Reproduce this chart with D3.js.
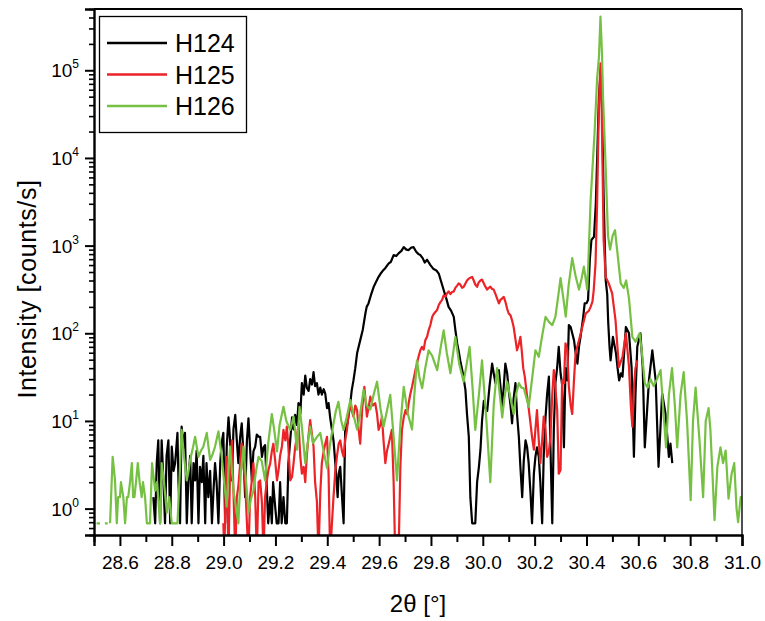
<!DOCTYPE html>
<html>
<head>
<meta charset="utf-8">
<script src="https://cdn.jsdelivr.net/npm/d3@7/dist/d3.min.js"></script>
<style>
  body { margin: 0; background: #fff; }
  svg { font-family: Arial, "Liberation Sans", sans-serif; }
</style>
</head>
<body>
<main></main>
<script>
// series: [2theta in deg, intensity in counts/s], 0 = no counts
const seriesNames = ["H124", "H125", "H126"]
const seriesColors = ["#000000", "#ec2327", "#76c043"]

const h124 = [
  [28.729,1.35],[28.736,0.68],[28.742,3.3],[28.748,6],[28.755,0.68],[28.761,6],[28.768,2.0],[28.774,0.68],
  [28.780,4],[28.787,6],[28.794,0.68],[28.800,5.1],[28.807,2.7],[28.813,3.3],[28.822,7.3],[28.826,2.0],
  [28.832,0.68],[28.838,8.6],[28.846,5],[28.851,7.3],[28.858,0.68],[28.864,2.1],[28.871,4],[28.877,0.68],
  [28.884,3.3],[28.890,2.1],[28.896,4.6],[28.903,0.68],[28.909,3],[28.916,2.0],[28.922,4],[28.929,0.68],
  [28.934,3.3],[28.941,1.35],[28.948,2.7],[28.955,0.68],[28.961,1.6],[28.967,3.3],[28.973,2.0],[28.980,0.68],
  [28.987,3.3],[28.992,5.5],[28.999,7.3],[29.006,0.68],[29.012,5],[29.019,11],[29.025,6],[29.032,2.1],
  [29.038,8],[29.045,11.7],[29.051,6],[29.057,3.3],[29.064,6.6],[29.070,9.4],[29.077,4],[29.083,1.35],
  [29.090,6],[29.096,10.7],[29.102,5],[29.109,2.1],[29.115,4.5],[29.122,5.1],[29.128,7],[29.135,6.6],
  [29.141,6.6],[29.148,3.9],[29.154,5],[29.160,5.3],[29.166,2.0],[29.172,0.68],[29.180,1.35],[29.186,0.68],
  [29.191,2.0],[29.199,1.05],[29.205,0.68],[29.212,0.68],[29.218,2.0],[29.224,0.68],[29.231,1.35],[29.238,0.68],
  [29.244,0.68],[29.250,3.3],[29.257,6],[29.264,11],[29.270,8],[29.276,11.7],[29.283,9],[29.289,16],
  [29.296,12],[29.302,27],[29.309,20],[29.315,33],[29.321,24],[29.328,22],[29.334,30],[29.341,26],
  [29.347,36],[29.353,25],[29.360,27],[29.366,20],[29.373,24],[29.379,20],[29.386,23],[29.392,20.6],
  [29.399,14],[29.405,16],[29.411,11],[29.418,7.9],[29.424,6],[29.431,3.3],[29.436,2.0],[29.440,1.35],
  [29.444,2.5],[29.450,3.0],[29.456,1.5],[29.463,0.68],[29.469,7.9],[29.478,9.4],[29.489,16],[29.494,22],
  [29.501,29],[29.508,40],[29.515,59],[29.521,70],[29.527,83],[29.537,110],[29.547,168],[29.552,200],
  [29.559,219],[29.568,270],[29.579,338],[29.587,380],[29.598,440],[29.606,480],[29.617,528],[29.625,560],
  [29.637,627],[29.645,650],[29.656,780],[29.666,760],[29.675,815],[29.686,870],[29.695,960],[29.705,900],
  [29.714,890],[29.724,950],[29.733,960],[29.743,850],[29.752,800],[29.759,780],[29.768,720],[29.776,640],
  [29.785,690],[29.798,600],[29.810,540],[29.821,520],[29.830,480],[29.838,400],[29.849,312],[29.859,250],
  [29.868,200],[29.878,180],[29.888,154],[29.894,110],[29.901,77],[29.908,60],[29.913,49],[29.923,35],
  [29.933,22.6],[29.939,12],[29.946,6.6],[29.952,1.35],[29.959,0.68],[29.966,0.68],[29.971,0.68],[29.978,2.0],
  [29.985,3],[29.991,4.7],[29.997,10],[30.004,17],[30.010,14],[30.017,13],[30.026,25],[30.036,45],
  [30.042,35],[30.049,27],[30.055,35],[30.062,38],[30.068,25],[30.075,14.5],[30.081,25],[30.087,45],
  [30.094,35],[30.100,22.5],[30.107,15],[30.113,9.4],[30.119,18],[30.126,27],[30.132,12],[30.139,6.6],
  [30.145,3],[30.152,1.35],[30.158,3.5],[30.165,6],[30.171,5],[30.177,3.3],[30.184,1.5],[30.190,0.68],
  [30.197,2.5],[30.203,3.9],[30.209,5],[30.216,3.9],[30.222,2],[30.229,0.68],[30.235,4],[30.242,11],
  [30.248,20],[30.255,32],[30.261,5],[30.268,0.68],[30.274,8],[30.280,27],[30.287,41],[30.293,70],
  [30.300,35],[30.306,26],[30.313,5],[30.319,40],[30.326,29],[30.332,124],[30.339,118],[30.345,100],
  [30.352,83],[30.358,60],[30.365,45],[30.371,70],[30.377,91],[30.387,150],[30.393,219],[30.400,220],
  [30.406,240],[30.413,700],[30.419,1160],[30.429,1260],[30.436,3000],[30.442,12000],[30.448,50000],[30.454,90000],
  [30.460,40000],[30.466,3900],[30.474,405],[30.480,280],[30.484,130],[30.489,70],[30.493,49],[30.502,91],
  [30.514,59],[30.520,40],[30.526,29],[30.533,35],[30.539,32],[30.552,118],[30.564,100],[30.574,41],
  [30.583,3.9],[30.589,20],[30.596,70],[30.608,100],[30.617,41],[30.625,5],[30.641,29],[30.654,64],
  [30.667,29],[30.678,3],[30.692,20.6],[30.705,12],[30.718,3.9],[30.724,5.5],[30.731,3.3]
]

const h125 = [
  [28.999,0.68],[29.003,0.3],[29.010,3.9],[29.019,0.3],[29.025,3],[29.032,6],[29.037,2],[29.045,0.3],
  [29.051,1.35],[29.057,1.8],[29.064,3.3],[29.070,5.5],[29.077,3],[29.083,2.1],[29.090,0.68],[29.096,0.3],
  [29.102,1.35],[29.109,2.1],[29.115,3.3],[29.122,1.35],[29.128,0.3],[29.135,2.0],[29.141,2.1],[29.148,1.16],
  [29.154,0.3],[29.160,1.35],[29.167,2.1],[29.173,2.75],[29.180,3.3],[29.186,4.5],[29.192,5.5],[29.199,3.5],
  [29.206,2.1],[29.212,2.75],[29.218,4],[29.225,5.1],[29.231,7.9],[29.238,6],[29.244,8.6],[29.250,5],
  [29.257,2.1],[29.264,2.3],[29.270,3.3],[29.276,5],[29.283,6.6],[29.289,9.4],[29.296,3.9],[29.302,2.5],
  [29.309,3],[29.315,2.0],[29.321,4],[29.328,7],[29.334,10.2],[29.341,7],[29.347,5.1],[29.353,2],
  [29.360,1.2],[29.366,0.3],[29.373,1.5],[29.379,3.3],[29.386,4.5],[29.392,5.5],[29.399,6.6],[29.405,2.5],
  [29.411,0.3],[29.418,0.68],[29.424,1.35],[29.431,2.7],[29.437,3.9],[29.444,5.5],[29.450,6],[29.457,4.5],
  [29.463,3.9],[29.469,6],[29.476,7.9],[29.482,12],[29.489,16],[29.495,13],[29.501,11.2],[29.508,15],
  [29.515,13.3],[29.521,8],[29.527,5.5],[29.535,14],[29.543,24.5],[29.553,11.2],[29.559,14],[29.566,18.9],
  [29.576,15],[29.585,15.9],[29.592,12],[29.598,7.9],[29.605,9],[29.611,11.2],[29.617,6],[29.624,3.3],
  [29.630,4.5],[29.637,5.5],[29.643,6.6],[29.649,7.9],[29.656,2.0],[29.662,0.3],[29.669,0.5],[29.675,0.3],
  [29.682,3],[29.688,7.9],[29.695,11],[29.702,13.3],[29.708,12],[29.714,15.9],[29.720,20],[29.727,24.5],
  [29.733,30],[29.740,38],[29.746,45],[29.752,54],[29.759,64],[29.765,70],[29.772,65],[29.778,83],
  [29.785,91],[29.791,108],[29.798,125],[29.805,154],[29.810,165],[29.817,175],[29.824,185],[29.830,210],
  [29.836,225],[29.843,240],[29.849,270],[29.856,260],[29.862,285],[29.868,300],[29.875,280],[29.881,295],
  [29.888,300],[29.894,330],[29.901,350],[29.907,370],[29.913,360],[29.920,330],[29.926,338],[29.933,370],
  [29.939,400],[29.946,420],[29.952,430],[29.959,440],[29.965,400],[29.971,360],[29.978,339],[29.984,380],
  [29.991,400],[29.997,410],[30.004,370],[30.010,340],[30.017,315],[30.023,330],[30.029,340],[30.036,320],
  [30.042,315],[30.049,280],[30.055,250],[30.062,219],[30.068,240],[30.075,250],[30.081,260],[30.087,230],
  [30.094,190],[30.100,168],[30.107,160],[30.113,140],[30.119,118],[30.126,85],[30.132,64],[30.139,75],
  [30.145,91],[30.151,60],[30.156,40],[30.162,32],[30.171,19],[30.177,14],[30.184,9.4],[30.190,6.6],
  [30.197,4.7],[30.203,8],[30.209,13.3],[30.216,6],[30.222,3.3],[30.229,6],[30.235,11.2],[30.242,8],
  [30.248,3.9],[30.255,4.5],[30.261,6.6],[30.268,20],[30.274,38],[30.280,24.5],[30.287,13.3],[30.293,2.5],
  [30.300,2.75],[30.306,29],[30.313,26.8],[30.319,77],[30.326,64],[30.332,24.5],[30.339,15],[30.345,12],
  [30.352,30],[30.358,59],[30.371,83],[30.384,118],[30.397,168],[30.409,180],[30.416,200],[30.423,230],
  [30.428,311],[30.435,630],[30.441,3000],[30.446,20000],[30.450,60000],[30.454,120000],[30.458,50000],[30.462,8000],
  [30.466,1200],[30.474,440],[30.486,370],[30.499,285],[30.512,141],[30.525,41],[30.539,54],[30.552,100],
  [30.564,41.5],[30.571,15],[30.577,8.6],[30.583,24.5],[30.589,40],[30.596,49]
]

const h126 = [
  [28.510,0.68],[28.523,0.68],[28.530,0],[28.542,0.68],[28.553,0.68],[28.558,0],[28.562,0.68],[28.572,3.9],
  [28.581,2.1],[28.588,0.68],[28.593,1.35],[28.600,1.35],[28.604,2.0],[28.613,1.35],[28.620,0.68],[28.627,1.35],
  [28.632,1.35],[28.639,2.0],[28.646,3.3],[28.651,1.35],[28.656,1.35],[28.662,2.0],[28.669,3.3],[28.676,2.0],
  [28.684,1.35],[28.689,2.0],[28.697,1.35],[28.704,0.68],[28.716,0.68],[28.724,3.3],[28.736,1.6],[28.743,2.0],
  [28.755,0.68],[28.761,3.3],[28.770,2.0],[28.781,0.9],[28.790,1.35],[28.800,0.68],[28.822,0.68],[28.832,3.0],
  [28.838,7.9],[28.847,4.0],[28.858,2.1],[28.865,2.7],[28.871,3.6],[28.882,5.0],[28.890,6.6],[28.903,3.9],
  [28.913,4.6],[28.922,5.1],[28.935,7.3],[28.948,3.6],[28.958,4.2],[28.967,5.1],[28.980,7.6],[28.993,3.9],
  [29.002,2.0],[29.012,1.05],[29.019,2.8],[29.025,5.1],[29.038,1.6],[29.048,1.0],[29.057,0.68],[29.066,2.5],
  [29.077,5.1],[29.087,2.0],[29.096,0.9],[29.106,1.3],[29.115,1.6],[29.126,2.8],[29.135,3.9],[29.147,3.5],
  [29.160,2.1],[29.172,5.5],[29.186,12],[29.195,8],[29.206,4.5],[29.216,9],[29.231,14.5],[29.242,10],
  [29.257,7.9],[29.270,11.2],[29.283,4.7],[29.293,14.5],[29.303,8],[29.315,3.3],[29.326,6],[29.334,8.6],
  [29.345,5.6],[29.359,6.5],[29.373,7.3],[29.386,4.5],[29.399,2.9],[29.411,5.5],[29.423,9],[29.433,13],
  [29.443,16.5],[29.454,10],[29.463,7.9],[29.475,11],[29.489,17.3],[29.500,12],[29.515,8],[29.527,12],
  [29.540,22.6],[29.552,15],[29.566,13.5],[29.579,20],[29.592,28],[29.605,14],[29.617,8.6],[29.630,13],
  [29.643,19.8],[29.657,6],[29.669,2.1],[29.682,9],[29.695,24.5],[29.711,12],[29.727,8],[29.736,20],
  [29.746,49],[29.755,32],[29.766,23.6],[29.778,40],[29.791,64],[29.805,55],[29.824,38],[29.836,65],
  [29.849,108],[29.861,60],[29.875,35],[29.884,55],[29.894,91],[29.909,45],[29.926,28],[29.938,45],
  [29.949,70],[29.960,25],[29.971,7.9],[29.985,20],[29.997,49],[30.014,10],[30.029,2.0],[30.042,15],
  [30.055,40],[30.064,22],[30.075,11],[30.083,18],[30.094,28],[30.107,18],[30.119,12],[30.128,20],
  [30.139,27],[30.149,24],[30.158,23.6],[30.169,18],[30.177,14.5],[30.190,30],[30.203,64],[30.216,54],
  [30.228,90],[30.242,154],[30.255,135],[30.268,124],[30.280,154],[30.292,280],[30.300,425],[30.310,260],
  [30.320,155],[30.331,350],[30.345,720],[30.358,450],[30.371,315],[30.381,420],[30.390,575],[30.403,315],
  [30.409,900],[30.416,3300],[30.431,19000],[30.441,80000],[30.448,140000],[30.454,410000],[30.460,150000],[30.464,49000],
  [30.474,7900],[30.483,1300],[30.491,900],[30.501,1300],[30.510,1500],[30.520,800],[30.532,370],[30.544,330],
  [30.553,400],[30.564,250],[30.577,91],[30.589,80],[30.605,100],[30.614,60],[30.625,27],[30.636,24],
  [30.647,30],[30.659,25],[30.672,30],[30.686,38],[30.695,15],[30.707,5],[30.718,20],[30.730,40],
  [30.741,15],[30.750,5],[30.763,20],[30.775,36],[30.788,10],[30.802,1.25],[30.811,10],[30.821,24],
  [30.836,6],[30.850,1.35],[30.860,10],[30.871,14],[30.878,8],[30.886,2.5],[30.894,0.74],[30.905,3],
  [30.917,5],[30.927,3.3],[30.937,4.6],[30.948,1.3],[30.960,2.5],[30.970,3.3],[30.979,1.0],[30.985,0.7],
  [30.995,1.35],[31.000,1.35]
]

const xMajorTicks = [28.6, 28.8, 29.0, 29.2, 29.4, 29.6, 29.8, 30.0, 30.2, 30.4, 30.6, 30.8, 31.0]
const xMinorTicks = [28.5, 28.7, 28.9, 29.1, 29.3, 29.5, 29.7, 29.9, 30.1, 30.3, 30.5, 30.7, 30.9]
const yDecades = [1, 10, 100, 1000, 10000, 100000]
const xLabel = "2θ [°]"
const yLabel = "Intensity [counts/s]"

const w = 765
const h = 621
const margin = { top: 9, right: 23, bottom: 86, left: 94 }

const svg = d3.select("main").append("svg").attr("width", w).attr("height", h)

const x = d3.scaleLinear().domain([28.5, 31.0]).range([margin.left, w - margin.right])
const y = d3.scaleLog().domain([0.5, 5e5]).range([h - margin.bottom, margin.top])

svg.append("defs").append("clipPath").attr("id", "plot-clip")
  .append("rect")
  .attr("x", margin.left)
  .attr("y", margin.top)
  .attr("width", w - margin.left - margin.right)
  .attr("height", h - margin.top - margin.bottom)

// data lines, H124 first so H126 ends up on top
const line = d3.line()
  .defined((d) => d[1] > 0)
  .x((d) => x(d[0]))
  .y((d) => y(Math.max(d[1], 0.3)))

const plot = svg.append("g").attr("clip-path", "url(#plot-clip)")
;[h124, h125, h126].forEach((data, i) => {
  plot.append("path")
    .datum(data)
    .attr("d", line)
    .attr("fill", "none")
    .attr("stroke", seriesColors[i])
    .attr("stroke-width", 2.2)
    .attr("stroke-linejoin", "round")
})

// frame
svg.append("line")
  .attr("x1", margin.left).attr("x2", w - margin.right)
  .attr("y1", margin.top).attr("y2", margin.top)
  .attr("stroke", "#000").attr("stroke-width", 2)
svg.append("line")
  .attr("x1", w - margin.right).attr("x2", w - margin.right)
  .attr("y1", margin.top).attr("y2", h - margin.bottom)
  .attr("stroke", "#222").attr("stroke-width", 1.6)

// x axis
const xAxis = svg.append("g").attr("transform", `translate(0,${h - margin.bottom})`)
xAxis.call(d3.axisBottom(x).tickValues(xMinorTicks).tickSize(7).tickFormat(""))
xAxis.selectAll(".tick line").attr("stroke-width", 2)
xAxis.select(".domain").remove()

const xAxisMajor = svg.append("g").attr("transform", `translate(0,${h - margin.bottom})`)
xAxisMajor.call(d3.axisBottom(x).tickValues(xMajorTicks).tickSize(11).tickPadding(10).tickFormat(d3.format(".1f")))
xAxisMajor.selectAll(".tick line").attr("stroke-width", 2)
xAxisMajor.selectAll(".tick text")
  .attr("font-size", 19)
  .attr("font-family", "Arial, 'Liberation Sans', sans-serif")
  .attr("fill", "#000")
xAxisMajor.select(".domain").attr("stroke-width", 2.4)

// y axis: minor ticks at 2..9 of every decade
const yMinor = []
for (let e = -1; e <= 5; e++) {
  for (let k = 2; k <= 9; k++) {
    const v = k * Math.pow(10, e)
    if (v >= 0.5 && v <= 5e5) yMinor.push(v)
  }
}
const yAxisMinor = svg.append("g").attr("transform", `translate(${margin.left},0)`)
yAxisMinor.call(d3.axisLeft(y).tickValues(yMinor).tickSize(5).tickFormat(""))
yAxisMinor.selectAll(".tick line").attr("stroke-width", 1.6)
yAxisMinor.select(".domain").remove()

const yAxis = svg.append("g").attr("transform", `translate(${margin.left},0)`)
yAxis.call(d3.axisLeft(y).tickValues(yDecades).tickSize(9).tickFormat(""))
yAxis.selectAll(".tick line").attr("stroke-width", 2)
yAxis.select(".domain").attr("stroke-width", 2.4)

const yLabels = svg.append("g")
yDecades.forEach((d) => {
  const t = yLabels.append("text")
    .attr("x", 79)
    .attr("y", y(d) + 7)
    .attr("text-anchor", "end")
    .attr("font-size", 19)
  t.append("tspan").text("10")
  t.append("tspan").attr("font-size", 12).attr("dy", -9).text(Math.round(Math.log10(d)))
})

// axis titles
svg.append("text")
  .attr("x", (margin.left + w - margin.right) / 2)
  .attr("y", 612)
  .attr("text-anchor", "middle")
  .attr("font-size", 24)
  .text(xLabel)

svg.append("text")
  .attr("transform", "translate(36,289) rotate(-90)")
  .attr("text-anchor", "middle")
  .attr("font-size", 25)
  .attr("letter-spacing", 0.6)
  .text(yLabel)

// legend
const legendBox = svg.append("g").attr("id", "legend")
legendBox.append("rect")
  .attr("x", 99.5).attr("y", 16.5)
  .attr("width", 147).attr("height", 116)
  .attr("fill", "#fff").attr("stroke", "#000").attr("stroke-width", 1.3)

const legend = legendBox.selectAll(".legend-item")
  .data(seriesNames)
  .enter()
  .append("g")
  .attr("class", "legend-item")
  .attr("transform", (d, i) => `translate(0,${43 + i * 31.5})`)

legend.append("line")
  .attr("x1", 107).attr("x2", 167)
  .attr("stroke", (d, i) => seriesColors[i])
  .attr("stroke-width", 2.5)

legend.append("text")
  .attr("x", 175)
  .attr("y", 9)
  .attr("font-size", 25)
  .text((d) => d)
</script>
</body>
</html>
